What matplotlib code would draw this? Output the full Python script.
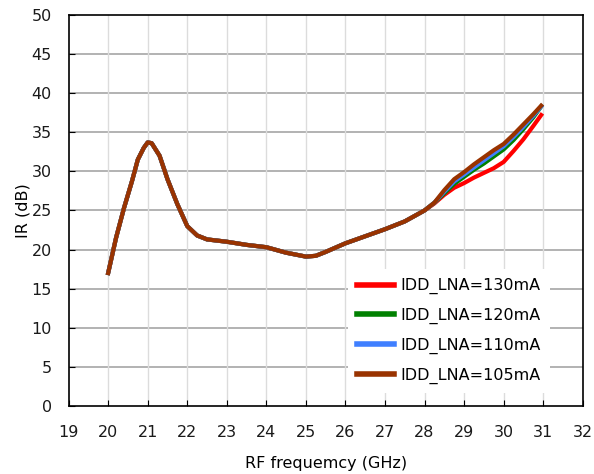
import matplotlib
matplotlib.use("Agg")
from matplotlib import pyplot as plt

# RF frequency (GHz) and image rejection (dB) for each LNA bias current
freq = [20.0, 20.2, 20.4, 20.6, 20.75, 20.9, 21.0, 21.1, 21.3, 21.5, 21.75, 22.0,
        22.25, 22.5, 23.0, 23.5, 24.0, 24.5, 25.0, 25.25, 25.5, 26.0, 26.5, 27.0,
        27.5, 28.0, 28.25, 28.5, 28.75, 29.0, 29.25, 29.5, 29.75, 30.0, 30.25,
        30.5, 30.75, 30.95]

common = [17.0, 21.5, 25.3, 28.7, 31.5, 33.0, 33.7, 33.6, 32.0, 29.0, 25.8, 23.0,
          21.8, 21.3, 21.0, 20.6, 20.3, 19.6, 19.1, 19.2, 19.7, 20.8, 21.7, 22.6,
          23.6, 25.0, 26.0]

ir_130 = common[:-1] + [25.9, 27.0, 27.9, 28.5, 29.2, 29.8, 30.4, 31.2, 32.6, 34.1, 35.8, 37.2]
ir_120 = common + [27.2, 28.4, 29.3, 30.2, 31.0, 31.9, 32.8, 34.0, 35.4, 36.9, 38.3]
ir_110 = common + [27.4, 28.7, 29.6, 30.5, 31.4, 32.3, 33.2, 34.4, 35.7, 37.1, 38.3]
ir_105 = common + [27.6, 29.0, 29.9, 30.9, 31.8, 32.7, 33.5, 34.7, 36.0, 37.3, 38.4]

labels = ["IDD_LNA=130mA", "IDD_LNA=120mA", "IDD_LNA=110mA", "IDD_LNA=105mA"]
colors = ["#ff0000", "#008000", "#3f7fff", "#993300"]

plt.rcParams["font.family"] = "DejaVu Sans"
plt.rcParams["font.size"] = 11.5

fig = plt.figure(figsize=(5.94, 4.74), dpi=100)
ax = fig.add_axes([0.1155, 0.1435, 0.8655, 0.825])

for series, label, color in zip([ir_130, ir_120, ir_110, ir_105], labels, colors):
    ax.plot(freq, series, color=color, lw=3, label=label, solid_joinstyle="round")

ax.set_xlim(19, 32)
ax.set_ylim(0, 50)
ax.set_xticks(range(19, 33))
ax.set_yticks(range(0, 51, 5))

# horizontal grid darker than vertical grid
for y in range(5, 50, 5):
    ax.axhline(y, color="#a6a6a6", lw=1.2, zorder=0)
for x in range(20, 32):
    ax.axvline(x, color="#dcdcdc", lw=1.0, zorder=0)

for s in ax.spines.values():
    s.set_color("black")
    s.set_linewidth(1.2)
ax.tick_params(direction="in", length=4, color="black", labelcolor="#1a1a1a")
ax.tick_params(axis="x", pad=14)
ax.tick_params(axis="y", pad=12)

ax.set_xlabel("RF frequemcy (GHz)", labelpad=11)
ax.set_ylabel("IR (dB)", labelpad=1)

leg = ax.legend(loc="lower left", bbox_to_anchor=(0.527, 0.012), frameon=True,
                fancybox=False, edgecolor="none", facecolor="white", framealpha=1,
                handlelength=2.3, labelspacing=0.85, handletextpad=0.4,
                borderpad=0.6)
for line in leg.get_lines():
    line.set_linewidth(4)

fig.savefig("out.png", dpi=100)
